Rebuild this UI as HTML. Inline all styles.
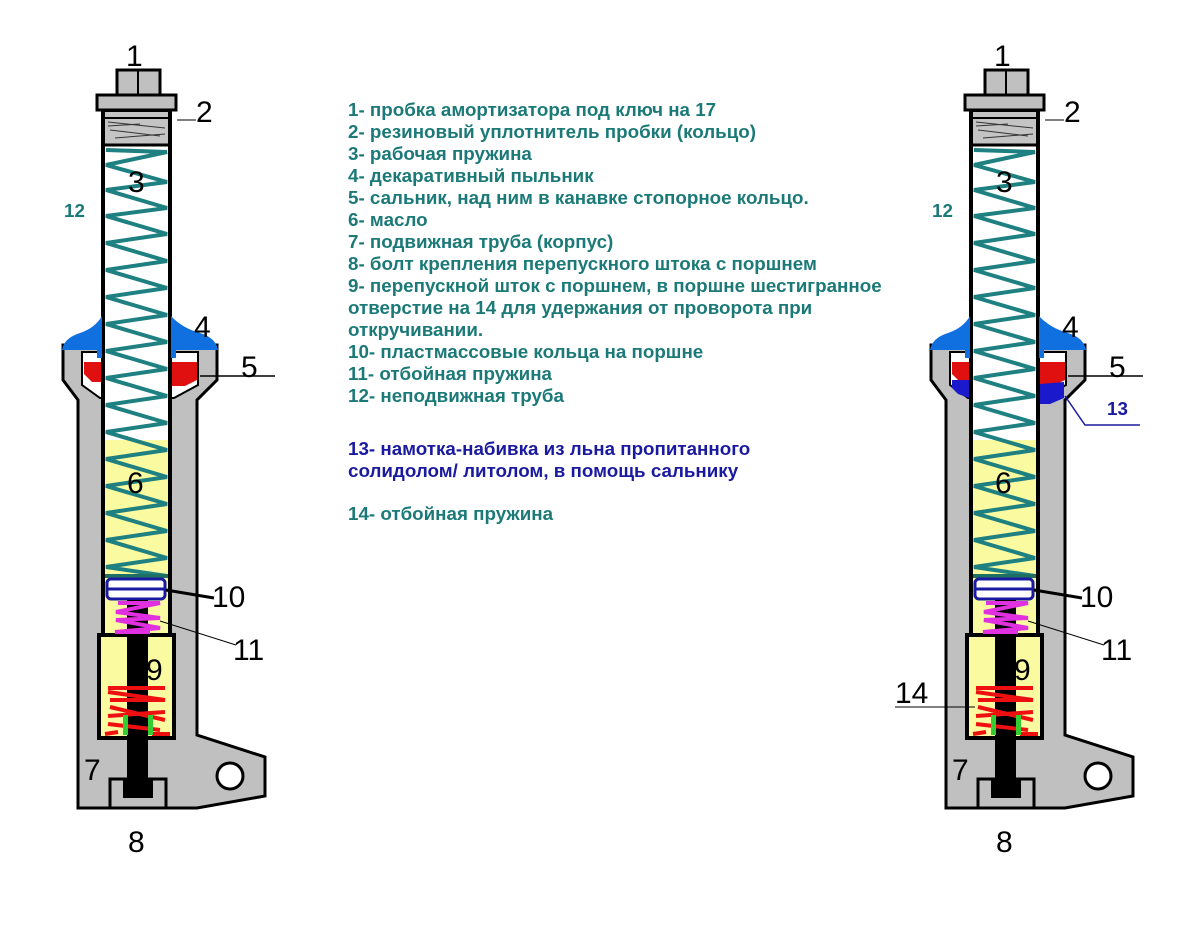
<!DOCTYPE html>
<html><head><meta charset="utf-8"><style>
html,body{margin:0;padding:0;background:#fff;}
svg{display:block;}
.t{font-family:"Liberation Sans","Noto Sans CJK SC",sans-serif;font-weight:bold;font-size:18.8px;fill:#1b7a78;}
.b{fill:#1a1aa0;}
.n{font-family:"Liberation Sans",sans-serif;font-size:30px;fill:#000;}
</style></head><body>
<svg width="1193" height="933" viewBox="0 0 1193 933" xmlns="http://www.w3.org/2000/svg">
<defs>
<g id="shock">
  <polygon points="63,345 63,380 78,400 78,808 197,808 265,796 265,757 197,735 197,400 217,380 217,345" fill="#c0c0c0" stroke="#000" stroke-width="3"/>
  <polygon points="82,352 82,385 100,398 174,398 198,385 198,352" fill="#fff" stroke="#000" stroke-width="2"/>
  <circle cx="230" cy="776" r="13" fill="#fff" stroke="#000" stroke-width="3"/>
  <rect x="99" y="635" width="75" height="103" fill="#fafaa0" stroke="#000" stroke-width="4"/>
  <rect x="103" y="110" width="67" height="525" fill="#fff" stroke="#000" stroke-width="4"/>
  <rect x="105" y="440" width="63" height="193" fill="#fafaa0"/>
  <rect x="105" y="112" width="63" height="33" fill="#c4c4c4"/>
  <path d="M108 122 L165 128 M110 130 L160 136 M115 138 L165 134 M108 126 L140 124" stroke="#333" stroke-width="1"/>
  <line x1="103" y1="118" x2="170" y2="118" stroke="#000" stroke-width="2"/>
  <line x1="103" y1="145" x2="170" y2="145" stroke="#000" stroke-width="3"/>
  <rect x="117" y="70" width="43" height="25" fill="#c0c0c0" stroke="#000" stroke-width="3"/>
  <line x1="138" y1="70" x2="138" y2="95" stroke="#000" stroke-width="2"/>
  <rect x="97" y="95" width="79" height="15" fill="#c0c0c0" stroke="#000" stroke-width="3"/>
  <polyline fill="none" stroke="#1e8080" stroke-width="4" points="106,150 167,152 106,165 167,182 106,190 167,208 106,216 167,234 106,243 167,261 106,270 167,288 106,297 167,315 106,324 167,342 106,351 167,369 106,378 167,396 106,405 167,423 106,432 167,450 106,459 167,477 106,486 167,504 106,513 167,531 106,540 167,558 106,567 167,576"/>
  <rect x="105" y="574" width="63" height="4" fill="#1e7060"/>
  <rect x="107" y="579" width="58" height="20" rx="4" fill="#fff" stroke="#1a1aa0" stroke-width="3"/>
  <line x1="108" y1="589" x2="164" y2="589" stroke="#1a1aa0" stroke-width="3"/>
  <rect x="127" y="600" width="21" height="190" fill="#000"/>
  <polyline fill="none" stroke="#e030e0" stroke-width="4" points="118,603 160,603 116,612 160,618 116,620 160,628 115,632 150,632"/>
  <path d="M108 688 L165 688 M108 692 L165 700 L110 700 M110 707 L165 720 M108 716 L165 712 M108 724 L160 730 M105 734 L118 732 M152 734 L170 734" stroke="#ee1010" stroke-width="4" fill="none"/>
  <rect x="123" y="715" width="5" height="20" fill="#33cc33"/>
  <rect x="148" y="715" width="5" height="20" fill="#33cc33"/>
  <rect x="110" y="779" width="56" height="29" fill="#c0c0c0" stroke="#000" stroke-width="3"/>
  <rect x="123" y="779" width="30" height="19" fill="#000"/>
  <path d="M62,350 Q64,338 80,333 Q95,328 102,316 L102,358 L97,358 L97,350 Z" fill="#1070e0"/>
  <path d="M218,350 Q216,338 200,333 Q182,328 171,316 L171,358 L176,358 L176,350 Z" fill="#1070e0"/>
  <polygon points="84,362 101,362 101,382 92,382 84,374" fill="#e01010"/>
  <polygon points="172,362 197,362 197,380 185,386 172,386" fill="#e01010"/>
  <text class="n" x="126" y="66" font-size="28">1</text>
  <text class="n" x="196" y="122" font-size="26">2</text>
  <line x1="177" y1="120" x2="196" y2="120" stroke="#000" stroke-width="1"/>
  <text class="n" x="128" y="192" font-size="28">3</text>
  <text class="t" x="64" y="217" font-size="15">12</text>
  <text class="n" x="194" y="337">4</text>
  <text class="n" x="241" y="377">5</text>
  <line x1="200" y1="376" x2="275" y2="376" stroke="#000" stroke-width="1.5"/>
  <text class="n" x="127" y="493">6</text>
  <text class="n" x="212" y="607">10</text>
  <line x1="166" y1="590" x2="214" y2="598" stroke="#000" stroke-width="3"/>
  <text class="n" x="233" y="660">11</text>
  <line x1="160" y1="621" x2="236" y2="645" stroke="#000" stroke-width="1"/>
  <text class="n" x="146" y="680">9</text>
  <text class="n" x="84" y="780">7</text>
  <text class="n" x="128" y="852">8</text>
</g>
</defs>
<use href="#shock"/>
<use href="#shock" x="868"/>
<polygon points="952,380 969,380 969,398 958,394 952,388" fill="#1a1acc"/>
<polygon points="1040,384 1064,382 1064,398 1050,404 1040,404" fill="#1a1acc"/>
<polyline points="1065,396 1085,425 1140,425" fill="none" stroke="#1a1aa0" stroke-width="1.5"/>
<text class="t b" x="1107" y="415" font-size="15">13</text>
<text class="n" x="895" y="703">14</text>
<line x1="895" y1="707" x2="975" y2="707" stroke="#000" stroke-width="1"/>
<g class="t">
<text x="348" y="116">1- пробка амортизатора под ключ на 17</text>
<text x="348" y="138">2- резиновый уплотнитель пробки (кольцо)</text>
<text x="348" y="160">3- рабочая пружина</text>
<text x="348" y="182">4- декаративный пыльник</text>
<text x="348" y="204">5- сальник, над ним в канавке  стопорное кольцо.</text>
<text x="348" y="226">6- масло</text>
<text x="348" y="248">7- подвижная труба (корпус)</text>
<text x="348" y="270">8- болт крепления перепускного штока с поршнем</text>
<text x="348" y="292">9- перепускной шток с поршнем, в поршне шестигранное</text>
<text x="348" y="314">отверстие на 14 для удержания от проворота при</text>
<text x="348" y="336">откручивании.</text>
<text x="348" y="358">10- пластмассовые кольца на поршне</text>
<text x="348" y="380">11- отбойная пружина</text>
<text x="348" y="402">12- неподвижная труба</text>
<text x="348" y="455" class="t b">13- намотка-набивка из льна пропитанного</text>
<text x="348" y="477" class="t b">солидолом/ литолом, в помощь сальнику</text>
<text x="348" y="520">14- отбойная пружина</text>
</g>
</svg>
</body></html>
